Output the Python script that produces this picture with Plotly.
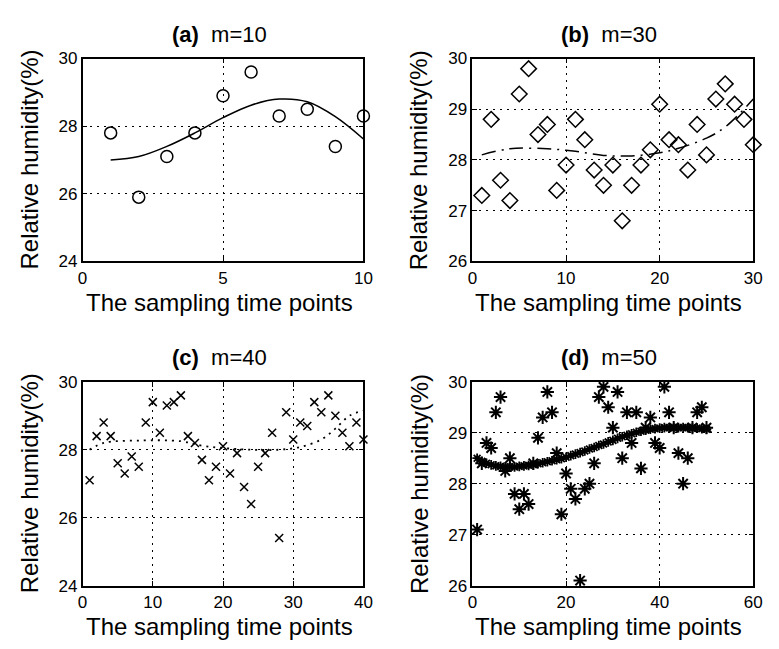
import plotly.graph_objects as go

# ---------------- data ----------------
a_x = list(range(1, 11))
a_y = [27.8, 25.9, 27.1, 27.8, 28.9, 29.6, 28.3, 28.5, 27.4, 28.3]
a_fit = [27.0, 27.1, 27.4, 27.8, 28.25, 28.62, 28.8, 28.72, 28.28, 27.62]

b_x = list(range(1, 31))
b_y = [27.3, 28.8, 27.6, 27.2, 29.3, 29.8, 28.5, 28.7, 27.4, 27.9,
       28.8, 28.4, 27.8, 27.5, 27.9, 26.8, 27.5, 27.9, 28.2, 29.1,
       28.4, 28.3, 27.8, 28.7, 28.1, 29.2, 29.5, 29.1, 28.8, 28.3]
b_fit_x = [1, 4, 8, 11, 14, 17, 20, 22, 25, 27, 30]
b_fit_y = [28.1, 28.22, 28.22, 28.17, 28.09, 28.08, 28.14, 28.23, 28.43, 28.65, 29.2]

c_x = list(range(1, 41))
c_y = [27.1, 28.4, 28.8, 28.4, 27.6, 27.3, 27.8, 27.5, 28.8, 29.4,
       28.5, 29.3, 29.4, 29.6, 28.4, 28.2, 27.7, 27.1, 27.5, 28.1,
       27.3, 27.9, 26.9, 26.4, 27.5, 27.9, 28.5, 25.4, 29.1, 28.3,
       28.8, 28.7, 29.4, 29.1, 29.6, 29.0, 28.5, 28.1, 28.8, 28.3]
c_fit_x = [1, 3, 8, 14, 17, 20, 24, 28, 31, 34, 36, 38, 40]
c_fit_y = [28.0, 28.2, 28.27, 28.25, 28.12, 28.05, 28.0, 28.0, 28.08, 28.3, 28.62, 29.0, 29.15]

d_x = list(range(1, 51))
d_y = [27.1, 28.4, 28.8, 28.7, 29.4, 29.7, 28.25, 28.5, 27.8, 27.5,
       27.8, 27.6, 28.4, 28.9, 29.3, 29.8, 29.4, 28.6, 27.4, 28.2,
       27.9, 27.7, 26.1, 27.9, 28.0, 28.4, 29.7, 29.9, 29.5, 29.1,
       29.8, 28.5, 29.4, 28.8, 29.4, 28.3, 29.1, 29.3, 28.8, 28.7,
       29.9, 29.4, 29.1, 28.6, 28.0, 28.5, 29.1, 29.4, 29.5, 29.1]
d_fit = [28.5, 28.44, 28.4, 28.37, 28.35, 28.34, 28.33, 28.33, 28.33, 28.34,
         28.35, 28.36, 28.37, 28.39, 28.41, 28.43, 28.45, 28.47, 28.49, 28.52,
         28.55, 28.58, 28.61, 28.64, 28.68, 28.71, 28.75, 28.78, 28.82, 28.85,
         28.89, 28.92, 28.95, 28.98, 29.01, 29.03, 29.05, 29.07, 29.08, 29.09,
         29.1, 29.1, 29.1, 29.1, 29.1, 29.1, 29.09, 29.09, 29.08, 29.07]

titles = ["(a)", "(b)", "(c)", "(d)"]
subtitles = ["m=10", "m=30", "m=40", "m=50"]
x_ranges = [[0, 10], [0, 30], [0, 40], [0, 60]]
x_ticks = [[0, 5, 10], [0, 10, 20, 30], [0, 10, 20, 30, 40], [0, 20, 40, 60]]
y_ranges = [[24, 30], [26, 30], [24, 30], [26, 30]]
y_ticks = [[24, 26, 28, 30], [26, 27, 28, 29, 30], [24, 26, 28, 30], [26, 27, 28, 29, 30]]
x_label = "The sampling time points"
y_label = "Relative humidity(%)"

# ---------------- layout geometry (pixels) ----------------
W, H = 779, 649
boxes = [(79, 365, 51, 260), (476, 762, 51, 260), (79, 365, 384, 594), (476, 762, 384, 594)]

FONT = "Liberation Sans, Arial, sans-serif"
fig = go.Figure()

def px_x(v):
    return v / W

def px_y(v):
    return 1 - v / H

black = "black"
# traces
fig.add_trace(go.Scatter(x=a_x, y=a_y, mode="markers", xaxis="x", yaxis="y", cliponaxis=False,
                         marker=dict(symbol="circle-open", size=12, color=black, line=dict(width=1.5))))
fig.add_trace(go.Scatter(x=a_x, y=a_fit, mode="lines", xaxis="x", yaxis="y", line_shape="spline",
                         line=dict(color=black, width=1.5)))

fig.add_trace(go.Scatter(x=b_x, y=b_y, mode="markers", xaxis="x2", yaxis="y2", cliponaxis=False,
                         marker=dict(symbol="diamond-open", size=12, color=black, line=dict(width=1.5))))
fig.add_trace(go.Scatter(x=b_fit_x, y=b_fit_y, mode="lines", xaxis="x2", yaxis="y2", line_shape="spline",
                         line=dict(color=black, width=1.5, dash="14px,6px,2px,6px")))

fig.add_trace(go.Scatter(x=c_x, y=c_y, mode="markers", xaxis="x3", yaxis="y3", cliponaxis=False,
                         marker=dict(symbol="x-thin-open", size=8, color=black, line=dict(width=1.5))))
fig.add_trace(go.Scatter(x=c_fit_x, y=c_fit_y, mode="lines", xaxis="x3", yaxis="y3", line_shape="spline",
                         line=dict(color=black, width=1.8, dash="2px,5px")))

fig.add_trace(go.Scatter(x=d_x, y=d_y, mode="markers", xaxis="x4", yaxis="y4", cliponaxis=False,
                         marker=dict(symbol="asterisk-open", size=11, color=black, line=dict(width=2))))
fig.add_trace(go.Scatter(x=d_x, y=d_fit, mode="lines+markers", xaxis="x4", yaxis="y4", line_shape="spline",
                         cliponaxis=False, line=dict(color=black, width=3.5),
                         marker=dict(symbol="asterisk-open", size=8, color=black, line=dict(width=1.8))))

annotations = []
for i in range(4):
    x0, x1, y0, y1 = boxes[i]
    suf = "" if i == 0 else str(i + 1)
    ax_common = dict(showline=True, linecolor=black, linewidth=1.5, mirror="ticks",
                     ticks="inside", ticklen=5, tickwidth=1, tickcolor=black,
                     showgrid=True, gridcolor=black, gridwidth=1.2, griddash="2px,5px",
                     zeroline=False, tickfont=dict(family=FONT, size=17, color=black))
    fig.layout["xaxis" + suf] = dict(ax_common, domain=[px_x(x0), px_x(x1)], range=x_ranges[i],
                                     tickvals=x_ticks[i], anchor="y" + suf)
    fig.layout["yaxis" + suf] = dict(ax_common, domain=[px_y(y1), px_y(y0)], range=y_ranges[i],
                                     tickvals=y_ticks[i], anchor="x" + suf)
    cx = (x0 + x1) / 2
    # title
    annotations.append(dict(xref="paper", yref="paper", x=px_x(cx - 4), y=px_y(y0 - 25),
                            text="<b>" + titles[i] + "</b>  " + subtitles[i], showarrow=False,
                            xanchor="center", yanchor="middle",
                            font=dict(family=FONT, size=22, color=black)))
    # x label
    annotations.append(dict(xref="paper", yref="paper", x=px_x(cx - 4), y=px_y(y1 + 42),
                            text=x_label, showarrow=False, xanchor="center", yanchor="middle",
                            font=dict(family=FONT, size=24, color=black)))
    # y label
    annotations.append(dict(xref="paper", yref="paper", x=px_x(x0 - 54), y=px_y((y0 + y1) / 2),
                            text=y_label, showarrow=False, xanchor="center", yanchor="middle",
                            textangle=-90, font=dict(family=FONT, size=24, color=black)))

fig.update_layout(width=W, height=H, margin=dict(l=0, r=0, t=0, b=0),
                  paper_bgcolor="white", plot_bgcolor="white", showlegend=False,
                  annotations=annotations)

fig.write_html("out.html")
